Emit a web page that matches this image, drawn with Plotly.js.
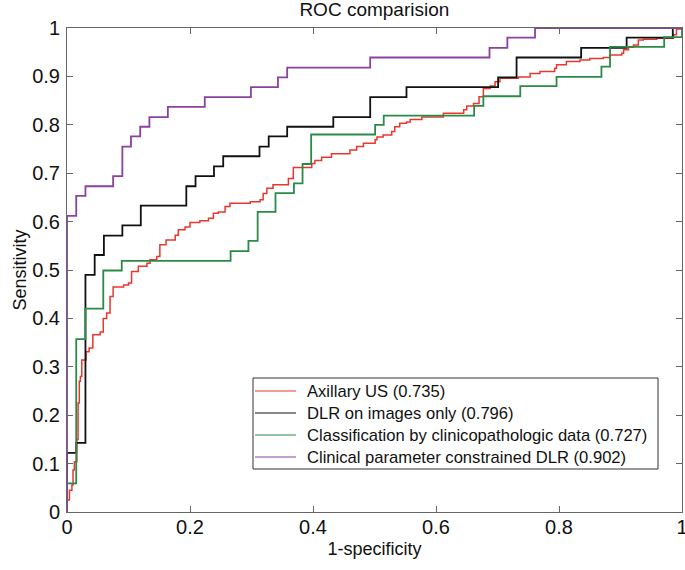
<!DOCTYPE html>
<html>
<head>
<meta charset="utf-8">
<script src="https://cdn.plot.ly/plotly-3.0.1.min.js"></script>
<style>html,body{margin:0;padding:0;background:#fff;}#chart{width:685px;height:570px;}</style>
</head>
<body>
<div id="chart"></div>
<script>
// Series names
const seriesNames = [
  "Axillary US (0.735)",
  "DLR on images only (0.796)",
  "Classification by clinicopathologic data (0.727)",
  "Clinical parameter constrained DLR (0.902)"
];

// Axillary US (red) — staircase corner points (1-specificity, sensitivity)
const usX = [0,0,0.004,0.008,0.0098,0.012,0.016,0.018,0.020,0.0217,0.024,0.031,0.036,0.042,0.054,0.059,0.0645,0.070,0.075,0.092,0.100,0.105,0.116,0.130,0.135,0.146,0.151,0.161,0.176,0.181,0.192,0.200,0.216,0.230,0.238,0.246,0.257,0.265,0.298,0.314,0.319,0.325,0.335,0.360,0.368,0.398,0.403,0.414,0.430,0.460,0.471,0.482,0.501,0.504,0.514,0.528,0.533,0.541,0.552,0.558,0.577,0.612,0.645,0.650,0.661,0.670,0.677,0.688,0.696,0.704,0.734,0.753,0.769,0.793,0.796,0.812,0.834,0.850,0.872,0.883,0.902,0.905,0.913,0.921,0.929,0.937,0.959,0.986,0.991,1.0];
const usY = [0,0.025,0.045,0.056,0.087,0.104,0.150,0.225,0.270,0.280,0.314,0.331,0.339,0.366,0.372,0.400,0.411,0.445,0.465,0.469,0.473,0.497,0.508,0.514,0.521,0.528,0.552,0.562,0.572,0.583,0.589,0.598,0.602,0.607,0.617,0.620,0.631,0.638,0.641,0.645,0.658,0.669,0.676,0.689,0.712,0.720,0.726,0.733,0.740,0.748,0.755,0.762,0.769,0.775,0.779,0.786,0.796,0.803,0.806,0.811,0.816,0.824,0.831,0.839,0.844,0.858,0.875,0.880,0.889,0.896,0.899,0.906,0.910,0.917,0.924,0.931,0.934,0.937,0.939,0.944,0.948,0.955,0.960,0.965,0.975,0.977,0.979,0.986,0.998,1.0];

// DLR on images only (black)
const dlrX = [0,0,0.015,0.030,0.045,0.060,0.090,0.120,0.194,0.209,0.239,0.254,0.313,0.328,0.358,0.433,0.493,0.552,0.701,0.731,0.836,0.910,0.985,1.0];
const dlrY = [0,0.122,0.143,0.490,0.531,0.571,0.592,0.633,0.673,0.694,0.714,0.735,0.755,0.776,0.796,0.816,0.857,0.878,0.898,0.939,0.959,0.980,1.0,1.0];

// Classification by clinicopathologic data (green)
const cpX = [0,0,0.015,0.030,0.059,0.089,0.266,0.295,0.310,0.339,0.369,0.383,0.397,0.501,0.515,0.662,0.677,0.737,0.796,0.869,0.883,0.971,1.0];
const cpY = [0,0.059,0.357,0.420,0.499,0.519,0.539,0.560,0.620,0.659,0.679,0.719,0.780,0.800,0.819,0.839,0.859,0.880,0.899,0.920,0.961,0.981,1.0];

// Clinical parameter constrained DLR (purple)
const cpdX = [0,0,0.015,0.030,0.075,0.090,0.104,0.119,0.134,0.164,0.224,0.299,0.343,0.358,0.493,0.687,0.716,0.761,1.0];
const cpdY = [0,0.612,0.653,0.673,0.694,0.755,0.776,0.796,0.816,0.837,0.857,0.878,0.898,0.918,0.939,0.959,0.980,1.0,1.0];

// Tick values / labels
const xTicks = [0,0.2,0.4,0.6,0.8,1];
const xTickText = ["0","0.2","0.4","0.6","0.8","1"];
const yTicks = [0,0.1,0.2,0.3,0.4,0.5,0.6,0.7,0.8,0.9,1];
const yTickText = ["0","0.1","0.2","0.3","0.4","0.5","0.6","0.7","0.8","0.9","1"];

const colors = ["#e8372d","#111111","#2b8a47","#8b419f"];
const widths = [1.5,1.8,1.8,1.8];
const xs = [usX, dlrX, cpX, cpdX];
const ys = [usY, dlrY, cpY, cpdY];

const traces = seriesNames.map((n,i)=>({
  x: xs[i], y: ys[i], name: n, type: "scatter", mode: "lines",
  line: {color: colors[i], width: widths[i], shape: "hv"},
  hoverinfo: "skip", showlegend: false
}));

const FONT = "'Liberation Sans', Arial, Helvetica, sans-serif";
const axisCommon = {
  range: [0,1], showgrid: false, zeroline: false, showline: true,
  linecolor: "#666", linewidth: 1, mirror: "ticks", ticks: "inside",
  ticklen: 6, tickcolor: "#666", tickwidth: 1,
  tickfont: {family: FONT, size: 20, color: "#111"}, fixedrange: true,
  ticklabeloverflow: "allow"
};

// Legend box geometry (pixels within the 685x570 page), converted to paper coords
const W = 685, H = 570, L = 67, R = 3, T = 28, B = 58;
const pw = W - L - R, ph = H - T - B;
const px2x = p => (p - L) / pw;
const py2y = p => (H - B - p) / ph;
const legBox = {x0: 253, x1: 658, y0: 378, y1: 469};
const legRowY = [391, 413, 435, 457];

const shapes = [{
  type: "rect", xref: "paper", yref: "paper",
  x0: px2x(legBox.x0), x1: px2x(legBox.x1), y0: py2y(legBox.y1), y1: py2y(legBox.y0),
  line: {color: "#333", width: 1}, fillcolor: "#fff", layer: "above"
}];
const annotations = [];
seriesNames.forEach((n,i)=>{
  shapes.push({type: "line", xref: "paper", yref: "paper",
    x0: px2x(255), x1: px2x(296), y0: py2y(legRowY[i]), y1: py2y(legRowY[i]),
    line: {color: colors[i], width: 1.2}, layer: "above"});
  annotations.push({xref: "paper", yref: "paper", x: px2x(305), y: py2y(legRowY[i]),
    xanchor: "left", yanchor: "middle", showarrow: false, text: n,
    font: {family: FONT, size: 16.6, color: "#111"}});
});

const layout = {
  width: W, height: H,
  margin: {l: L, r: R, t: T, b: B},
  paper_bgcolor: "#fff", plot_bgcolor: "#fff",
  font: {family: FONT, color: "#111"},
  title: {text: "ROC comparision", font: {family: FONT, size: 19, color: "#111"},
          x: 0.5465, xanchor: "center", y: 0.983, yanchor: "middle", yref: "container"},
  xaxis: Object.assign({}, axisCommon, {
    tickvals: xTicks, ticktext: xTickText, ticklabelstandoff: -3,
    title: {text: "1-specificity", font: {family: FONT, size: 18, color: "#111"}, standoff: 5}
  }),
  yaxis: Object.assign({}, axisCommon, {
    tickvals: yTicks, ticktext: yTickText, ticklabelstandoff: 2,
    title: {text: "Sensitivity", font: {family: FONT, size: 18, color: "#111"}, standoff: 0}
  }),
  showlegend: false,
  shapes: shapes,
  annotations: annotations
};

Plotly.newPlot("chart", traces, layout, {displayModeBar: false, staticPlot: true});
</script>
</body>
</html>
